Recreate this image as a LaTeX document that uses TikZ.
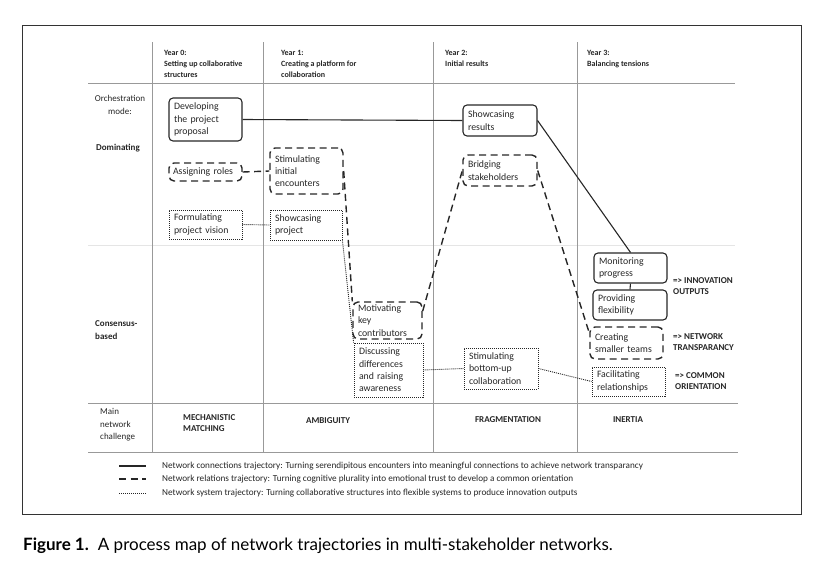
\documentclass[tikz,border=0pt]{standalone}
\usepackage{fontspec}
\setmainfont{Carlito}
\newfontfamily\capfont{Lato}
\usepackage{xcolor}
\usepackage{tikz}
\usetikzlibrary{positioning}

\newcommand{\bxfont}{\fontsize{9.8}{12.3}\selectfont}
\newcommand{\rowfont}{\fontsize{9}{12.5}\selectfont}
\newcommand{\smallbold}{\fontsize{8}{11}\selectfont\bfseries}
\newcommand{\capsbold}{\fontsize{9}{11}\selectfont\bfseries}

\begin{document}
\begin{tikzpicture}
        [x=1pt,y=-1pt,text=black!85,
        connbox/.style={rectangle,draw=black!85,line width=1.1pt,rounded corners=4pt,inner xsep=5pt,inner ysep=0.5pt,text width=63pt,align=left,font=\bxfont},
        relbox/.style={connbox,line width=1.4pt,rounded corners=5pt,dash pattern=on 7pt off 4.5pt},
        sysbox/.style={connbox,line width=0.9pt,sharp corners,dash pattern=on 1pt off 1pt},
        conn/.style={-,draw=black!85,line width=1.1pt},
        rel/.style={-,draw=black!85,line width=1.4pt,dash pattern=on 7pt off 4.5pt},
        sys/.style={-,draw=black!85,line width=0.9pt,dash pattern=on 1pt off 1pt},
        gridline/.style={draw=black!40,line width=0.6pt},
        faint/.style={draw=black!10,line width=1pt},
        hdr/.style={anchor=north west,inner sep=0,align=left,font=\smallbold},
        rowlbl/.style={inner sep=0,align=left,font=\rowfont},
        chal/.style={inner sep=0,align=left,font=\capsbold},
        outc/.style={anchor=west,inner sep=0,align=left,font=\capsbold},
        legtxt/.style={inner sep=0,font=\fontsize{9.2}{10}\selectfont}]

\useasboundingbox (0,0) rectangle (823,568);

% frame and grid
\draw[draw=black!80,line width=1pt] (22,25) rectangle (801,514);
\draw[faint] (88,245) -- (735,245);
\draw[gridline] (88,83) -- (735,83);
\draw[gridline] (88,403) -- (738,403);
\draw[gridline] (88,452) -- (738,452);
\foreach \xx in {152,263,433,577}
    \draw[gridline] (\xx,42) -- (\xx,452);

% headers
\node[hdr] at (164,50) (yr0) {Year 0:\\Setting up collaborative\\structures};
\node[hdr] at (281,50) (yr1) {Year 1:\\Creating a platform for\\collaboration};
\node[hdr] at (445,50) (yr2) {Year 2:\\Initial results};
\node[hdr] at (587,50) (yr3) {Year 3:\\Balancing tensions};

% row labels
\node[rowlbl,align=center] at (120,105) (orch) {Orchestration\\mode:};
\node[rowlbl,font=\rowfont\bfseries] at (118,148) (domin) {Dominating};
\node[rowlbl,anchor=west,font=\rowfont\bfseries] at (95,330) (consens) {Consensus-\\based};
\node[rowlbl,anchor=west] at (100,425) (mainch) {Main\\network\\challenge};

% boxes
\node[connbox,minimum height=43pt] at (205.5,119.5) (develop) {Developing\\the project\\proposal};
\node[relbox,minimum height=18pt,inner xsep=4pt,text width=65pt] at (205.5,172) (assign) {Assigning roles};
\node[sysbox,minimum height=29pt] at (205.5,224.5) (formul) {Formulating\\project vision};

\node[relbox,minimum height=46pt] at (306.5,171) (stiminit) {Stimulating\\initial\\encounters};
\node[sysbox,minimum height=30pt,text width=62pt] at (306,225) (showproj) {Showcasing\\project};
\node[relbox,minimum height=37pt,text width=59pt] at (387.5,320.5) (motiv) {Motivating\\key\\contributors};
\node[sysbox,minimum height=54pt,text width=59pt] at (388.5,370) (discuss) {Discussing\\differences\\and raising\\awareness};

\node[connbox,minimum height=31pt,text width=64pt] at (500,120.5) (showres) {Showcasing\\results};
\node[relbox,minimum height=31pt,text width=64pt] at (500,170.5) (bridge) {Bridging\\stakeholders};
\node[sysbox,minimum height=41pt,text width=64pt] at (501,368.5) (stimbu) {Stimulating\\bottom-up\\collaboration};

\node[connbox,minimum height=30pt] at (630.5,268) (monitor) {Monitoring\\progress};
\node[connbox,minimum height=30pt,text width=64pt] at (630,305) (provide) {Providing\\flexibility};
\node[relbox,minimum height=32pt] at (626.5,343) (create) {Creating\\smaller teams};
\node[sysbox,minimum height=29pt] at (628.5,381.5) (facil) {Facilitating\\relationships};

% outcomes
\node[outc] at (673,286) (innov) {=> INNOVATION\\OUTPUTS};
\node[outc] at (673,342) (transp) {=> NETWORK\\TRANSPARANCY};
\node[outc] at (675,381) (orient) {=> COMMON\\ORIENTATION};

% challenges
\node[chal,anchor=west] at (183,423) (mech) {MECHANISTIC\\MATCHING};
\node[chal] at (328,421) (ambig) {AMBIGUITY};
\node[chal] at (508,420) (fragm) {FRAGMENTATION};
\node[chal] at (628,420) (inert) {INERTIA};

%lines
\draw[conn] (develop.east) -- (showres.west);
\draw[conn] (showres.east) -- (monitor.north);
\draw[conn] (monitor.south) -- (provide.north);

\draw[rel] (assign.east) -- (stiminit.west);
\draw[rel] (stiminit.east) -- (motiv.north west);
\draw[rel] (motiv.15) -- (bridge.west);
\draw[rel] (bridge.east) -- (create.165);

\draw[sys] (formul.east) -- (showproj.west);
\draw[sys] (showproj.south east) -- (discuss.north west);
\draw[sys] (discuss.east) -- (stimbu.west);
\draw[sys] (stimbu.east) -- (facil.west);

% legend
\coordinate (leg1a) at (119,466);
\coordinate (leg1b) at (146,466);
\coordinate (leg2a) at (119,479);
\coordinate (leg2b) at (146,479);
\coordinate (leg3a) at (119,493);
\coordinate (leg3b) at (146,493);
\draw[conn] (leg1a) -- (leg1b);
\draw[rel] (leg2a) -- (leg2b);
\draw[sys] (leg3a) -- (leg3b);
\node[legtxt,right=16pt of leg1b] (legconn) {Network connections trajectory: Turning serendipitous encounters into meaningful connections to achieve network transparancy};
\node[legtxt,right=16pt of leg2b] (legrel) {Network relations trajectory: Turning cognitive plurality into emotional trust to develop a common orientation};
\node[legtxt,right=16pt of leg3b] (legsys) {Network system trajectory: Turning collaborative structures into flexible systems to produce innovation outputs};

% caption
\node[anchor=west,inner sep=0,text=black,font=\capfont\fontsize{17}{20}\selectfont] at (23,546) (caption) {\textbf{Figure 1.}\hspace{9pt}A process map of network trajectories in multi-stakeholder networks.};

\end{tikzpicture}
\end{document}
